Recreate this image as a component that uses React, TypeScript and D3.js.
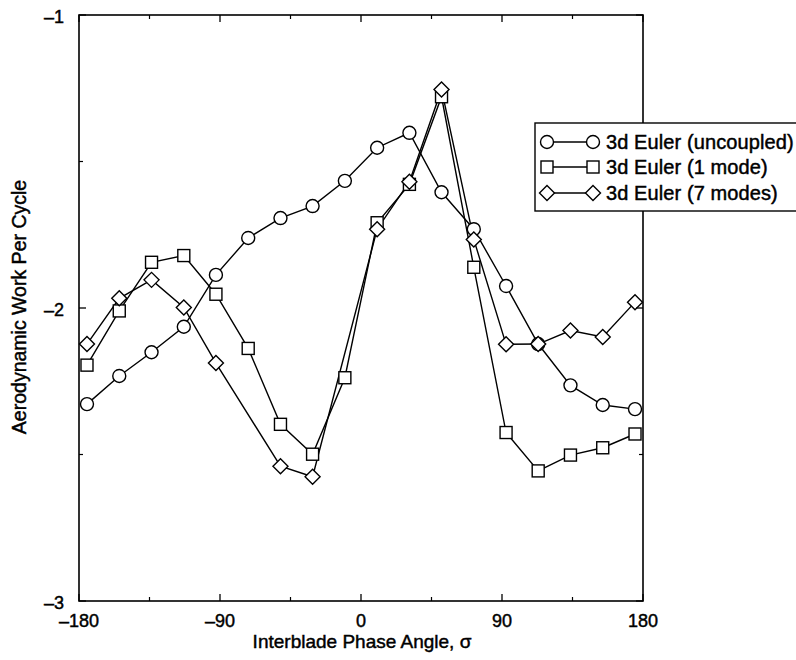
import React from "react";
import * as d3 from "d3";

// Interblade phase angles (deg)
const phaseAngles = [-174.9, -154.3, -133.7, -113.1, -92.6, -72.0, -51.4, -30.9, -10.3, 10.3, 30.9, 51.4, 72.0, 92.6, 113.1, 133.7, 154.3, 174.9];

const uncoupled = [-2.328, -2.232, -2.151, -2.064, -1.887, -1.761, -1.693, -1.652, -1.566, -1.453, -1.402, -1.605, -1.731, -1.925, -2.123, -2.264, -2.331, -2.345];
const oneMode = [-2.195, -2.01, -1.844, -1.821, -1.953, -2.138, -2.397, -2.499, -2.238, -1.709, -1.578, -1.279, -1.861, -2.425, -2.556, -2.502, -2.477, -2.43];
const sevenModes: (number | null)[] = [-2.123, -1.967, -1.904, -1.998, -2.188, null, -2.54, -2.576, null, -1.731, -1.569, -1.254, -1.766, -2.124, -2.123, -2.077, -2.099, -1.98];

const xMajorTicks = [-180, -90, 0, 90, 180];
const xMinorTicks = [-135, -45, 45, 135];
const yMajorTicks = [-3, -2, -1];
const yMinorTicks = [-2.5, -1.5];

const legendLabels = ["3d Euler (uncoupled)", "3d Euler (1 mode)", "3d Euler (7 modes)"];
const markerKinds = ["circle", "square", "diamond"];

const FONT = "'Liberation Sans', Arial, Helvetica, sans-serif";
const textStyle = { fill: "black", stroke: "black", strokeWidth: 0.45 };

function Marker({ kind, x, y }: { kind: string; x: number; y: number }) {
  const common = { fill: "white", stroke: "black", strokeWidth: 1.4 };
  if (kind === "circle") return <circle cx={x} cy={y} r={6.5} {...common} />;
  if (kind === "square") return <rect x={x - 6} y={y - 6} width={12} height={12} {...common} />;
  const d = 7.5;
  return <path d={`M${x},${y - d}L${x + d},${y}L${x},${y + d}L${x - d},${y}Z`} {...common} />;
}

export default function App() {
  const W = 796, H = 660;
  const L = 79, R = 643, T = 15, B = 601;
  const x = d3.scaleLinear().domain([-180, 180]).range([L, R]);
  const y = d3.scaleLinear().domain([-3, -1]).range([B, T]);

  const seriesList = [uncoupled, oneMode, sevenModes].map((vals, i) => {
    const pts = phaseAngles
      .map((a, j) => ({ a, v: vals[j] }))
      .filter((p) => p.v !== null && p.v !== undefined) as { a: number; v: number }[];
    return { kind: markerKinds[i], pts };
  });

  const line = d3
    .line<{ a: number; v: number }>()
    .x((d) => x(d.a))
    .y((d) => y(d.v));

  const majLen = 7, minLen = 4;

  return (
    <svg width={W} height={H} style={{ position: "absolute", left: 0, top: 0, background: "white" }} fontFamily={FONT}>
      <rect x={0} y={0} width={W} height={H} fill="white" />
      {/* series lines */}
      {seriesList.map((s, i) => (
        <path key={"l" + i} d={line(s.pts) || ""} fill="none" stroke="black" strokeWidth={1.4} />
      ))}
      {/* markers */}
      {seriesList.map((s, i) =>
        s.pts.map((p, j) => <Marker key={`m${i}-${j}`} kind={s.kind} x={x(p.a)} y={y(p.v)} />)
      )}
      {/* frame */}
      <rect x={L} y={T} width={R - L} height={B - T} fill="none" stroke="black" strokeWidth={1.6} />
      {/* x ticks */}
      {xMajorTicks.map((t) => (
        <g key={"xt" + t}>
          <line x1={x(t)} x2={x(t)} y1={B} y2={B - majLen} stroke="black" strokeWidth={1.3} />
          <line x1={x(t)} x2={x(t)} y1={T} y2={T + majLen} stroke="black" strokeWidth={1.3} />
          <text x={x(t)} y={627} textAnchor="middle" fontSize={18} {...textStyle}>
            {t < 0 ? "\u2013" + Math.abs(t) : String(t)}
          </text>
        </g>
      ))}
      {xMinorTicks.map((t) => (
        <g key={"xm" + t}>
          <line x1={x(t)} x2={x(t)} y1={B} y2={B - minLen} stroke="black" strokeWidth={1.2} />
          <line x1={x(t)} x2={x(t)} y1={T} y2={T + minLen} stroke="black" strokeWidth={1.2} />
        </g>
      ))}
      {/* y ticks */}
      {yMajorTicks.map((t) => (
        <g key={"yt" + t}>
          <line x1={L} x2={L + majLen} y1={y(t)} y2={y(t)} stroke="black" strokeWidth={1.3} />
          <line x1={R} x2={R - majLen} y1={y(t)} y2={y(t)} stroke="black" strokeWidth={1.3} />
          <text x={64} y={y(t) + 8} textAnchor="end" fontSize={18} {...textStyle}>
            {"\u2013" + Math.abs(t)}
          </text>
        </g>
      ))}
      {yMinorTicks.map((t) => (
        <g key={"ym" + t}>
          <line x1={L} x2={L + minLen} y1={y(t)} y2={y(t)} stroke="black" strokeWidth={1.2} />
          <line x1={R} x2={R - minLen} y1={y(t)} y2={y(t)} stroke="black" strokeWidth={1.2} />
        </g>
      ))}
      {/* axis labels */}
      <text x={362} y={648} textAnchor="middle" fontSize={19} {...textStyle}>
        Interblade Phase Angle, σ
      </text>
      <text transform={`translate(26,307) rotate(-90)`} textAnchor="middle" fontSize={19.5} {...textStyle}>
        Aerodynamic Work Per Cycle
      </text>
      {/* legend */}
      <g>
        <rect x={535} y={123} width={270} height={88} fill="white" stroke="black" strokeWidth={1.4} />
        {legendLabels.map((lab, i) => {
          const ly = [142, 167, 193][i];
          return (
            <g key={"lg" + i}>
              <line x1={547} x2={593} y1={ly} y2={ly} stroke="black" strokeWidth={1.4} />
              <Marker kind={markerKinds[i]} x={547} y={ly} />
              <Marker kind={markerKinds[i]} x={593} y={ly} />
              <text x={606} y={ly + 7} fontSize={20} letterSpacing={0.1} {...textStyle}>
                {lab}
              </text>
            </g>
          );
        })}
      </g>
    </svg>
  );
}
